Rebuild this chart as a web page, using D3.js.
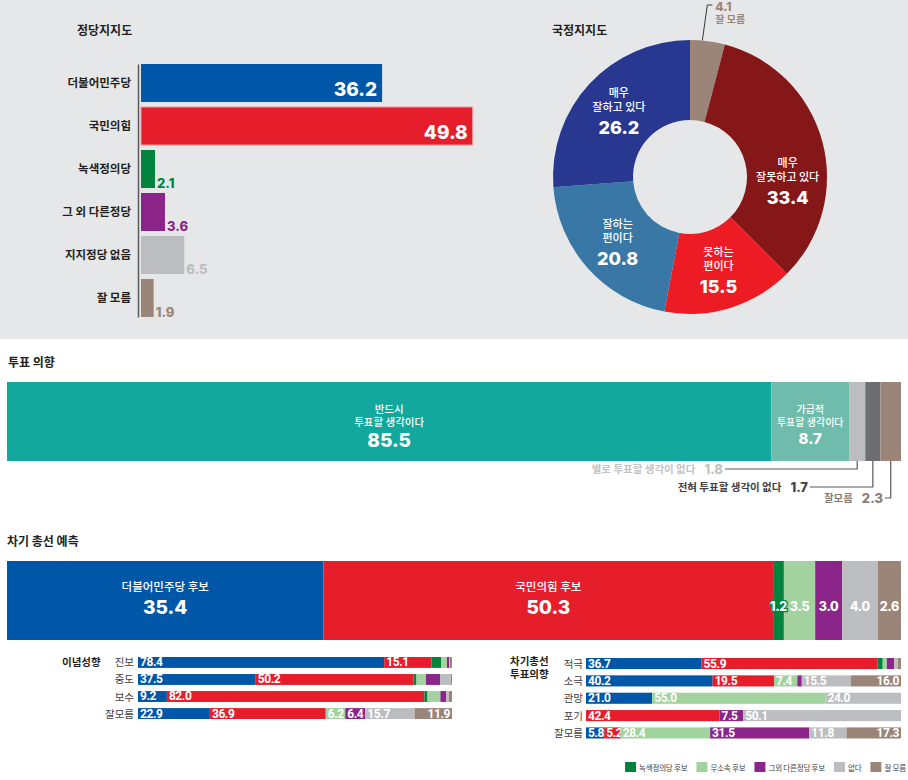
<!DOCTYPE html>
<html><head><meta charset="utf-8">
<script src="https://cdn.jsdelivr.net/npm/d3@7"></script>
<style>
body{margin:0;background:#fff;}
svg{display:block;}
</style></head><body>
<svg id="c" width="908" height="780"></svg>
<script>
// ---------- DATA ----------
const partyNames = ["더불어민주당","국민의힘","녹색정의당","그 외 다른정당","지지정당 없음","잘 모름"];
const partyValues = [36.2,49.8,2.1,3.6,6.5,1.9];

const approvalLabels = [["잘 모름"],["매우","잘못하고 있다"],["못하는","편이다"],["잘하는","편이다"],["매우","잘하고 있다"]];
const approvalValues = [4.1,33.4,15.5,20.8,26.2];

const voteLabels = [["반드시","투표할 생각이다"],["가급적","투표할 생각이다"],["별로 투표할 생각이 없다"],["전혀 투표할 생각이 없다"],["잘모름"]];
const voteValues = [85.5,8.7,1.8,1.7,2.3];

const candidateNames = ["더불어민주당 후보","국민의힘 후보","녹색정의당 후보","무소속 후보","그외 다른정당 후보","없다","잘 모름"];
const electionValues = [35.4,50.3,1.2,3.5,3.0,4.0,2.6];

const ideologyRows = ["진보","중도","보수","잘모름"];
const ideologyValues = [
  [78.4,15.1,3.1,1.8,0.7,0.2,0.7],
  [37.5,50.2,1.0,3.0,4.5,3.5,0.3],
  [9.2,82.0,1.0,4.1,1.9,0.8,1.0],
  [22.9,36.9,0,6.2,6.4,15.7,11.9]
];
const intentRows = ["적극","소극","관망","포기","잘모름"];
const intentValues = [
  [36.7,55.9,1.6,1.3,2.3,1.2,1.0],
  [40.2,19.5,0,7.4,1.4,15.5,16.0],
  [21.0,0,0,55.0,0,24.0,0],
  [0,42.4,0,0,7.5,50.1,0],
  [5.8,5.2,0,28.4,31.5,11.8,17.3]
];

// ---------- STYLE ----------
const KR = '"Noto Sans CJK KR","Noto Sans",sans-serif';
const NUM = 'Inter,"Noto Sans",sans-serif';
const NUM2 = 'Roboto,"Noto Sans",sans-serif';
const DARK = "#231f20";
const partyColors = ["#0057a8","#e61e2b","#00843d","#8b2589","#bcbdc0","#9b8579"];
const approvalColors = ["#9b8579","#861719","#ed1c24","#3877a6","#283891"];
const voteColors = ["#13a89e","#6fbcac","#bcbdc0","#6d6e71","#9b8579"];
const voteTextColors = ["#fff","#fff","#c2c3c5","#414042","#8d7d74"];
const candColors = ["#0057a8","#e61e2b","#00843d","#a2d29e","#8b2589","#bcbdc0","#9b8579"];

const svg = d3.select("#c");
svg.append("rect").attr("x",0).attr("y",0).attr("width",908).attr("height",339).attr("fill","#e6e7e8");

function title(x,y,t,size){
  return svg.append("text").attr("x",x).attr("y",y).text(t)
    .attr("font-family",KR).attr("font-weight",700).attr("font-size",size||12).attr("fill",DARK);
}

// ---------- 정당지지도 ----------
title(77,35,"정당지지도");
const x1 = d3.scaleLinear().domain([0,50]).range([141,474]);
const y1 = d3.scaleBand().domain(partyNames).range([64,317]).paddingInner(0.116);
const ax = svg.append("g").attr("transform","translate(138,0)")
  .call(d3.axisLeft(y1).tickSize(0).tickSizeOuter(0).tickPadding(7));
ax.select(".domain").attr("stroke","#58595b").attr("stroke-width",1.5);
ax.selectAll(".tick text").attr("font-family",KR).attr("font-size",11.5).attr("font-weight",700).attr("fill",DARK);

svg.append("g").selectAll("rect").data(partyValues).join("rect")
  .attr("x",x1(0)).attr("y",(d,i)=>y1(partyNames[i]))
  .attr("width",d=>x1(d)-x1(0)).attr("height",y1.bandwidth())
  .attr("fill",(d,i)=>partyColors[i])
  .attr("stroke",(d,i)=>i===1?"#f29aa0":"none").attr("stroke-width",1);

svg.append("g").selectAll("text").data(partyValues).join("text")
  .attr("x",(d,i)=> d>20 ? x1(d)-5 : x1(d)+2)
  .attr("y",(d,i)=> y1(partyNames[i]) + y1.bandwidth() - (d>20?6:0))
  .attr("text-anchor",d=>d>20?"end":"start")
  .attr("font-family",NUM).attr("font-weight",800)
  .attr("font-size",d=>d>20?19:13)
  .attr("fill",(d,i)=>d>20?"#fff":partyColors[i])
  .text(d=>d.toFixed(1));

// ---------- 국정지지도 ----------
title(552,35,"국정지지도");
const cx = 690, cy = 177;
const pie = d3.pie().sort(null).value(d=>d)(approvalValues);
const arc = d3.arc().innerRadius(57).outerRadius(137);
const lblArc = d3.arc().innerRadius(97).outerRadius(97);
const dg = svg.append("g").attr("transform",`translate(${cx},${cy})`);
dg.selectAll("path").data(pie).join("path").attr("d",arc).attr("fill",(d,i)=>approvalColors[i]);

const nudge = [[0,0],[4,29],[0,0],[0,0],[0,0]];
pie.forEach((d,i)=>{
  if(i===0){
    const a = d.startAngle + (d.endAngle-d.startAngle)*0.35;
    const px = 137*Math.sin(a), py = -137*Math.cos(a);
    dg.append("path").attr("d",`M${px},${py}L${px+5},${5-cy}L${px+10},${5-cy}`)
      .attr("fill","none").attr("stroke","#3a3a3a").attr("stroke-width",1);
    dg.append("text").attr("x",px+13).attr("y",11-cy).text(d.data.toFixed(1))
      .attr("font-family",NUM).attr("font-weight",800).attr("font-size",12).attr("fill",approvalColors[0]);
    dg.append("text").attr("x",px+13).attr("y",23-cy).text(approvalLabels[0][0])
      .attr("font-family",KR).attr("font-weight",700).attr("font-size",10).attr("fill",approvalColors[0]);
    return;
  }
  const [lx,ly] = lblArc.centroid(d);
  const x = lx + nudge[i][0], y = ly + nudge[i][1];
  approvalLabels[i].forEach((t,k)=>{
    dg.append("text").attr("x",x).attr("y",y-14+k*14).attr("text-anchor","middle").text(t)
      .attr("font-family",KR).attr("font-weight",500).attr("font-size",11).attr("fill","#fff");
  });
  dg.append("text").attr("x",x).attr("y",y+23).attr("text-anchor","middle").text(d.data.toFixed(1))
    .attr("font-family",NUM).attr("font-weight",800).attr("font-size",18).attr("fill","#fff");
});

// ---------- 투표 의향 ----------
title(8,367,"투표 의향");
const xv = d3.scaleLinear().domain([0,100]).range([7,901]);
const voteStart = voteValues.map((v,i)=>d3.sum(voteValues.slice(0,i)));
const vy0 = 382, vy1 = 461;
svg.append("g").selectAll("rect").data(voteValues).join("rect")
  .attr("x",(d,i)=>xv(voteStart[i])).attr("y",vy0)
  .attr("width",(d,i)=>xv(voteStart[i]+d)-xv(voteStart[i])).attr("height",vy1-vy0)
  .attr("fill",(d,i)=>voteColors[i]);
[0,1].forEach(i=>{
  const mx = (xv(voteStart[i])+xv(voteStart[i]+voteValues[i]))/2;
  voteLabels[i].forEach((t,k)=>{
    svg.append("text").attr("x",mx).attr("y",413+k*13).attr("text-anchor","middle").text(t)
      .attr("font-family",KR).attr("font-weight",500).attr("font-size",i===0?10.5:10).attr("fill","#fff");
  });
  svg.append("text").attr("x",mx).attr("y",i===0?447:444).attr("text-anchor","middle").text(voteValues[i].toFixed(1))
    .attr("font-family",NUM).attr("font-weight",800).attr("font-size",i===0?19:15).attr("fill","#fff");
});
const annY = [469,487,498];
const annEnd = [725,810,885];
[2,3,4].forEach((i,k)=>{
  const mx = (xv(voteStart[i])+xv(voteStart[i]+voteValues[i]))/2;
  svg.append("path").attr("d",`M${mx},${vy1}V${annY[k]}H${annEnd[k]}`)
    .attr("fill","none").attr("stroke","#58595b").attr("stroke-width",1.2);
  const num = svg.append("text").attr("x",annEnd[k]-2).attr("y",annY[k]+5).attr("text-anchor","end")
    .text(voteValues[i].toFixed(1))
    .attr("font-family",NUM).attr("font-weight",800).attr("font-size",13).attr("fill",voteTextColors[i]);
  const w = num.node().getComputedTextLength();
  svg.append("text").attr("x",annEnd[k]-2-w-9).attr("y",annY[k]+4).attr("text-anchor","end")
    .text(voteLabels[i][0])
    .attr("font-family",KR).attr("font-weight",700).attr("font-size",10.5).attr("fill",voteTextColors[i]);
});

// ---------- 차기 총선 예측 ----------
title(7,546,"차기 총선 예측");
const elStart = electionValues.map((v,i)=>d3.sum(electionValues.slice(0,i)));
const ey0 = 561, ey1 = 640;
svg.append("g").selectAll("rect").data(electionValues).join("rect")
  .attr("x",(d,i)=>xv(elStart[i])).attr("y",ey0)
  .attr("width",(d,i)=>xv(elStart[i]+d)-xv(elStart[i])).attr("height",ey1-ey0)
  .attr("fill",(d,i)=>candColors[i]);
electionValues.forEach((v,i)=>{
  const mx = (xv(elStart[i])+xv(elStart[i]+v))/2;
  if(i<2){
    svg.append("text").attr("x",mx).attr("y",591).attr("text-anchor","middle").text(candidateNames[i])
      .attr("font-family",KR).attr("font-weight",500).attr("font-size",11.5).attr("fill","#fff");
    svg.append("text").attr("x",mx).attr("y",614).attr("text-anchor","middle").text(v.toFixed(1))
      .attr("font-family",NUM).attr("font-weight",800).attr("font-size",19).attr("fill","#fff");
  } else {
    svg.append("text").attr("x",mx).attr("y",611).attr("text-anchor","middle").text(v.toFixed(1))
      .attr("font-family",NUM).attr("font-weight",800).attr("font-size",12.5).attr("letter-spacing",-0.3).attr("fill","#fff")
      .attr("stroke",i===2?candColors[2]:"none").attr("stroke-width",2.5).attr("paint-order","stroke");
  }
});

// ---------- breakdown bars ----------
function breakdown(rows, values, xr, yr, labelX){
  const xs = d3.scaleLinear().domain([0,100]).range(xr);
  const ys = d3.scaleBand().domain(rows).range(yr).paddingInner(0.36);
  const g = svg.append("g");
  values.forEach((row,r)=>{
    const y = ys(rows[r]);
    g.append("text").attr("x",labelX).attr("y",y+ys.bandwidth()/2+4).attr("text-anchor","end").text(rows[r])
      .attr("font-family",KR).attr("font-size",10.5).attr("fill","#414042");
    let acc = 0;
    row.forEach((v,i)=>{
      const a = xs(acc), b = xs(acc+v);
      if(v>0) g.append("rect").attr("x",a).attr("y",y).attr("width",b-a).attr("height",ys.bandwidth()).attr("fill",candColors[i]);
      if(v>=5){
        const brown = i===6;
        g.append("text").attr("x",brown?b-2:a+2).attr("y",y+ys.bandwidth()-1.5)
          .attr("text-anchor",brown?"end":"start").text(v.toFixed(1))
          .attr("font-family",NUM2).attr("font-weight",700).attr("font-size",12).attr("letter-spacing",-0.4).attr("fill","#fff");
      }
      acc += v;
    });
  });
}
title(62,666,"이념성향",10.5);
breakdown(ideologyRows, ideologyValues, [138,452], [657,719], 134);
title(510,665,"차기총선",10.5);
title(510,678,"투표의향",10.5);
breakdown(intentRows, intentValues, [586,901], [658,738.5], 583);

// ---------- legend ----------
const lg = svg.append("g");
let lx = 0;
[2,3,4,5,6].forEach(i=>{
  lg.append("rect").attr("x",lx).attr("y",762).attr("width",11).attr("height",10).attr("fill",candColors[i]);
  const t = lg.append("text").attr("x",lx+14).attr("y",770.5).text(candidateNames[i])
    .attr("font-family",KR).attr("font-size",7.5).attr("letter-spacing",-0.2).attr("fill","#414042");
  lx += 14 + t.node().getComputedTextLength() + (i<6?9:0);
});
lg.attr("transform",`translate(${906-lx},0)`);
</script>
</body></html>
